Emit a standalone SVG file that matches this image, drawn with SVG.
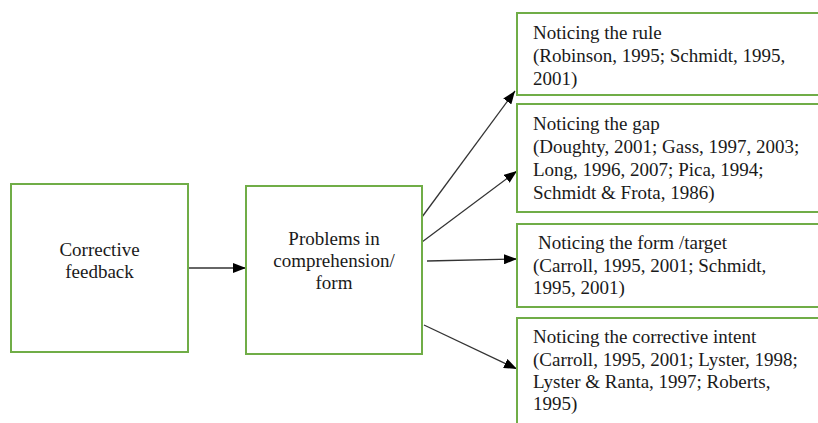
<svg xmlns="http://www.w3.org/2000/svg" width="818" height="423" viewBox="0 0 818 423">
<style>
.box{fill:#fff;stroke:#70AD47;stroke-width:2}
text{font-family:'Liberation Serif','DejaVu Serif',serif;font-size:19px;fill:#1a1a1a}
.c{text-anchor:middle}
.ln{stroke:#333;stroke-width:1.3;fill:none;marker-end:url(#ah)}
</style>
<defs>
<marker id="ah" markerUnits="userSpaceOnUse" markerWidth="14" markerHeight="10" refX="13" refY="5" orient="auto">
<path d="M0,0 L13,5 L0,10 Z" fill="#000"/>
</marker>
</defs>
<rect width="818" height="423" fill="#fff"/>
<g id="connectors">
<line class="ln" x1="189" y1="268" x2="246" y2="268"/>
<line class="ln" x1="422" y1="217" x2="515" y2="91"/>
<line class="ln" x1="422" y1="242" x2="517" y2="171"/>
<line class="ln" x1="427" y1="261" x2="517" y2="259"/>
<line class="ln" x1="424" y1="325" x2="517" y2="369"/>
</g>
<g id="corrective-feedback" font-family="Liberation Serif, serif">
<rect class="box" x="11" y="184" width="177" height="168"/>
<text class="c" x="99.5" y="256">Corrective</text>
<text class="c" x="99.5" y="278">feedback</text>
</g>
<g id="problems">
<rect class="box" x="246" y="186" width="176" height="168"/>
<text class="c" x="334" y="245">Problems in</text>
<text class="c" x="334" y="267">comprehension/</text>
<text class="c" x="334" y="289">form</text>
</g>
<g id="noticing-rule">
<rect class="box" x="517" y="13" width="320" height="82"/>
<text x="533" y="39">Noticing the rule</text>
<text x="533" y="62">(Robinson, 1995; Schmidt, 1995,</text>
<text x="533" y="85">2001)</text>
</g>
<g id="noticing-gap">
<rect class="box" x="517" y="104" width="320" height="108"/>
<text x="533" y="130">Noticing the gap</text>
<text x="533" y="153">(Doughty, 2001; Gass, 1997, 2003;</text>
<text x="533" y="176">Long, 1996, 2007; Pica, 1994;</text>
<text x="533" y="199">Schmidt &amp; Frota, 1986)</text>
</g>
<g id="noticing-form">
<rect class="box" x="517" y="224" width="320" height="83"/>
<text x="538" y="249">Noticing the form /target</text>
<text x="533" y="272">(Carroll, 1995, 2001; Schmidt,</text>
<text x="533" y="294">1995, 2001)</text>
</g>
<g id="noticing-intent">
<rect class="box" x="517" y="318" width="320" height="130"/>
<text x="533" y="343">Noticing the corrective intent</text>
<text x="533" y="366">(Carroll, 1995, 2001; Lyster, 1998;</text>
<text x="533" y="388">Lyster &amp; Ranta, 1997; Roberts,</text>
<text x="533" y="410">1995)</text>
</g>
</svg>
